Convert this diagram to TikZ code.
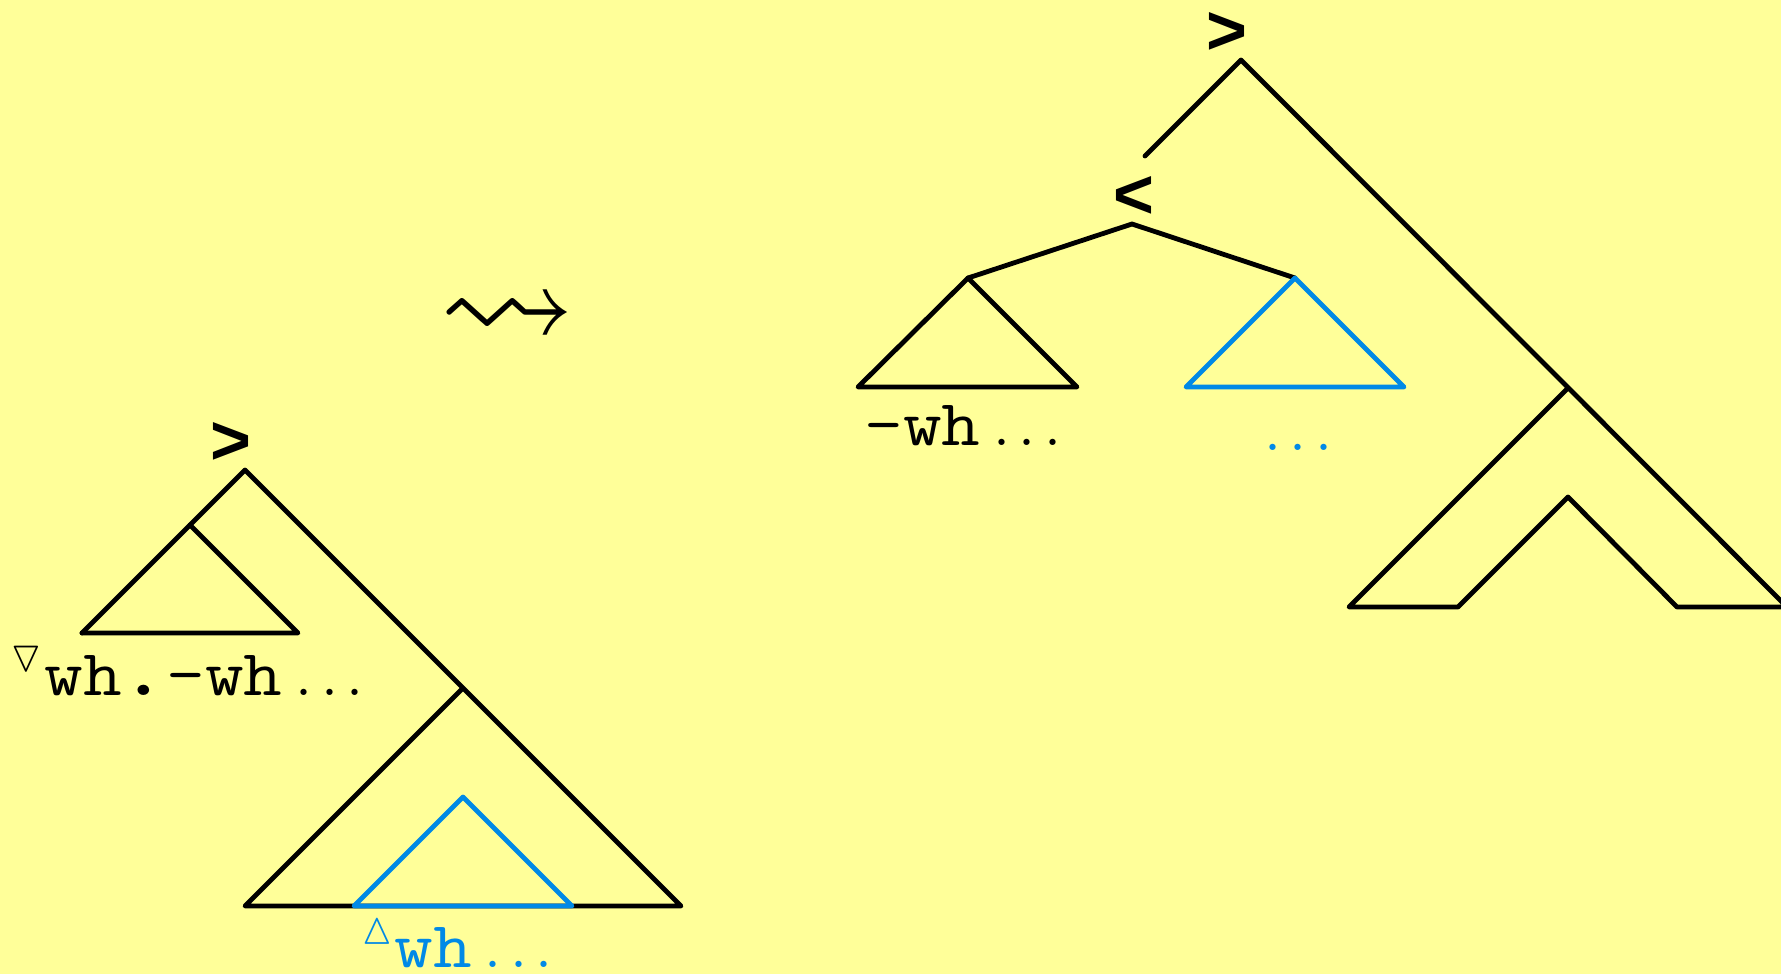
\documentclass[tikz,border=0pt]{standalone}
\usepackage{amssymb}
\usepackage{graphicx}
\usepackage{fontspec}
\newfontfamily\catfont{Liberation Sans}
\definecolor{bgyellow}{RGB}{255,255,153}
\definecolor{treeblue}{RGB}{0,137,230}
% typewriter words, widened a little
\newcommand{\wtt}[1]{\scalebox{1.15}[1]{\ttfamily #1}}
\newcommand{\wstop}{\scalebox{1.3}[1.15]{\ttfamily\bfseries .}}
% spaced ellipsis
\newcommand{\wdots}{\kern6pt{\fontsize{38}{44}\selectfont.\kern3.2pt.\kern3.2pt.}}
\begin{document}
\begin{tikzpicture}[x=0.5pt,y=-0.5pt,
  branch/.style={line width=2.4pt, line cap=round, line join=round},
  bluebranch/.style={branch, draw=treeblue},
  catlabel/.style={font=\catfont\bfseries\fontsize{35}{40}\selectfont, inner sep=0pt},
  wordlabel/.style={font=\fontsize{32.7}{39}\selectfont, inner sep=0pt, anchor=base west},
  trilabel/.style={inner sep=0pt}]
\fill[bgyellow] (0,0) rectangle (1781,974);
\useasboundingbox (0,0) rectangle (1781,974);

% ---------- left tree ----------
\coordinate (lTop) at (245,470);
\coordinate (lSpec) at (190,525);
\coordinate (lSpecL) at (82,633);
\coordinate (lSpecR) at (298,633);
\coordinate (lComp) at (463,688);
\coordinate (lCompL) at (245,906);
\coordinate (lCompR) at (681,906);
\coordinate (lGap) at (463,797);
\coordinate (lGapL) at (354,906);
\coordinate (lGapR) at (572,906);

\node[catlabel] (lCat) at (231,443) {>};
\draw[branch] (lSpecL) -- (lTop) -- (lCompR) -- (lCompL) -- (lComp);
\draw[branch] (lSpec) -- (lSpecR) -- (lSpecL);
\draw[bluebranch] (lGapL) -- (lGap) -- (lGapR) -- cycle;

\node[trilabel] (lTri) at (26.5,659.5) {\scalebox{2.2}{$\triangledown$}};
\node[wordlabel] (lWord) at (44,695) {\wtt{wh}\wstop\wtt{-wh}\wdots};
\node[trilabel, text=treeblue] (bTri) at (377.5,931.5) {\scalebox{2.2}{$\vartriangle$}};
\node[wordlabel, text=treeblue] (bWord) at (394,967) {\wtt{wh}\wdots};

% ---------- squiggly arrow ----------
\node[inner sep=0pt] (step1) at (507,321) {\scalebox{6.8}{$\leadsto$}};

% ---------- right tree ----------
\coordinate (rTop) at (1241,60);
\coordinate (rCut) at (1145,156);
\coordinate (rSub) at (1132,224);
\coordinate (rA) at (968,278);
\coordinate (rAL) at (858,387);
\coordinate (rAR) at (1077,387);
\coordinate (rB) at (1295,278);
\coordinate (rBL) at (1186,387);
\coordinate (rBR) at (1404,387);
\coordinate (rMid) at (1568,388);
\coordinate (rFootL) at (1349,607);
\coordinate (rNotchL) at (1458,607);
\coordinate (rInner) at (1568,497);
\coordinate (rNotchR) at (1677,607);
\coordinate (rFootR) at (1787,607);

\node[catlabel] (rCat) at (1227,33) {>};
\node[catlabel] (rSubCat) at (1134,197) {<};
\draw[branch] (rCut) -- (rTop) -- (rFootR) -- (rNotchR) -- (rInner) -- (rNotchL) -- (rFootL) -- (rMid);
\draw[branch] (rA) -- (rSub) -- (rB);
\draw[branch] (rA) -- (rAR) -- (rAL) -- cycle;
\draw[bluebranch] (rB) -- (rBR) -- (rBL) -- cycle;

\node[wordlabel] (rWord) at (864,445) {\wtt{-wh}\wdots};
\node[wordlabel, text=treeblue] (rDots) at (1251,450) {\wdots};
\end{tikzpicture}
\end{document}
